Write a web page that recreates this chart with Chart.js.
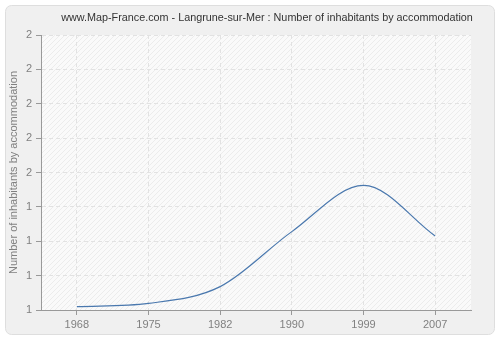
<!DOCTYPE html>
<html>
<head>
<meta charset="utf-8">
<script src="https://cdn.jsdelivr.net/npm/chart.js@4/dist/chart.umd.min.js"></script>
<style>
  html, body { margin: 0; padding: 0; background: #fff; }
  canvas { display: block; }
</style>
</head>
<body>
<canvas id="chart" width="500" height="340"></canvas>
<script>
const titre = "www.Map-France.com - Langrune-sur-Mer : Number of inhabitants by accommodation";
const annees = ["1968", "1975", "1982", "1990", "1999", "2007"];
const habitantsParLogement = [1.012, 1.024, 1.085, 1.285, 1.453, 1.269];
const yMin = 1;
const yMax = 2;
const yPas = 0.125;

// fond du cadre + hachures de la zone de tracé
const fondPlugin = {
  id: "fond",
  beforeDraw(chart) {
    const ctx = chart.ctx;
    const a = chart.chartArea;
    ctx.save();
    ctx.beginPath();
    ctx.roundRect(5.5, 5.5, 489, 329, 6);
    ctx.fillStyle = "#f0f0f0";
    ctx.fill();
    ctx.strokeStyle = "#dedede";
    ctx.lineWidth = 1;
    ctx.stroke();

    ctx.fillStyle = "#fafafa";
    ctx.fillRect(a.left, a.top, a.right - a.left, a.bottom - a.top);
    const p = document.createElement("canvas");
    p.width = 5; p.height = 5;
    const pc = p.getContext("2d");
    pc.strokeStyle = "#ececec";
    pc.lineWidth = 1;
    pc.beginPath();
    pc.moveTo(0, 5); pc.lineTo(5, 0);
    pc.moveTo(-1, 1); pc.lineTo(1, -1);
    pc.moveTo(4, 6); pc.lineTo(6, 4);
    pc.stroke();
    ctx.fillStyle = ctx.createPattern(p, "repeat");
    ctx.fillRect(a.left, a.top, a.right - a.left, a.bottom - a.top);

    ctx.fillStyle = "#333";
    ctx.font = "10.8px 'Liberation Sans', Arial, sans-serif";
    ctx.textAlign = "center";
    ctx.textBaseline = "middle";
    ctx.fillText(titre, 267, 18);
    ctx.restore();
  }
};

new Chart(document.getElementById("chart"), {
  type: "line",
  data: {
    labels: annees,
    datasets: [{
      data: habitantsParLogement,
      borderColor: "#4a78ae",
      borderWidth: 1.2,
      pointRadius: 0,
      fill: false,
      cubicInterpolationMode: "monotone"
    }]
  },
  options: {
    responsive: false,
    animation: false,
    layout: { padding: { left: 0, top: 35, right: 29, bottom: 0 } },
    plugins: {
      legend: { display: false },
      tooltip: { enabled: false }
    },
    scales: {
      x: {
        offset: true,
        afterFit(s) { s.height = 30; },
        grid: { color: "#e2e2e2", tickColor: "#999", tickLength: 5, tickBorderDash: [] },
        border: { color: "#999", dash: [4, 3] },
        ticks: { color: "#808080", font: { size: 11, family: "'Liberation Sans', Arial, sans-serif" }, padding: 3 }
      },
      y: {
        min: yMin,
        max: yMax,
        afterFit(s) { s.width = 41; },
        grid: { color: "#e2e2e2", tickColor: "#999", tickLength: 5, tickBorderDash: [] },
        border: { color: "#999", dash: [4, 3] },
        ticks: {
          stepSize: yPas,
          color: "#808080",
          padding: 4,
          font: { size: 11, family: "'Liberation Sans', Arial, sans-serif" },
          callback: v => Math.round(v)
        },
        title: {
          display: true,
          text: "Number of inhabitants by accommodation",
          color: "#808080",
          padding: { top: 7, bottom: 0 },
          font: { size: 11, family: "'Liberation Sans', Arial, sans-serif" }
        }
      }
    }
  },
  plugins: [fondPlugin]
});
</script>
</body>
</html>
